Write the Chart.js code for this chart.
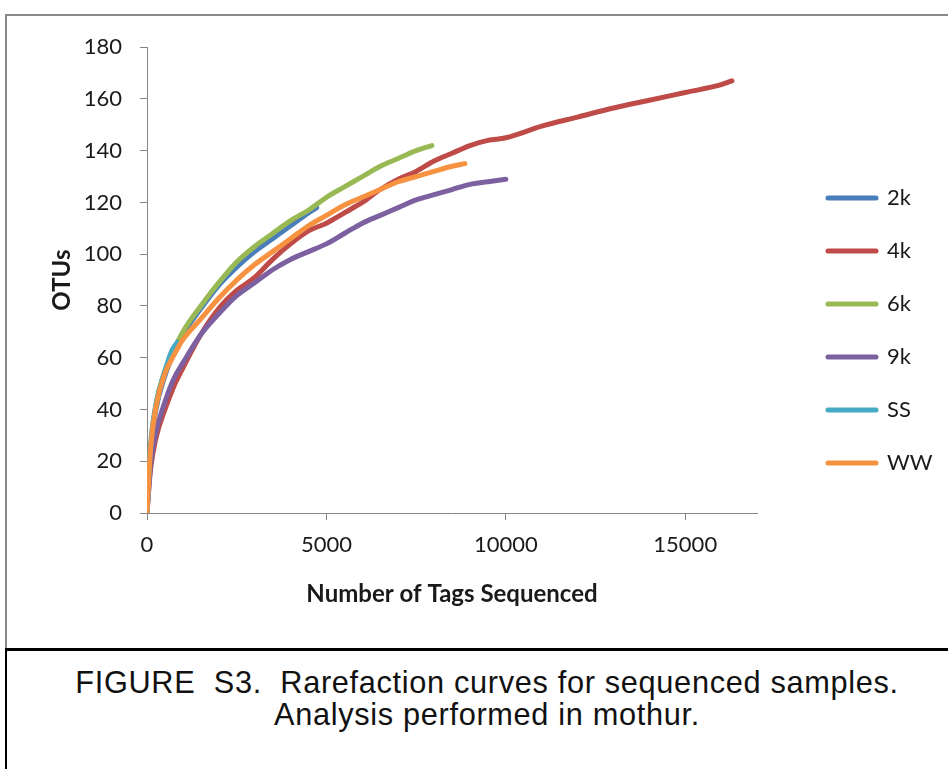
<!DOCTYPE html>
<html>
<head>
<meta charset="utf-8">
<script src="https://cdn.jsdelivr.net/npm/chart.js@4.4.1/dist/chart.umd.min.js"></script>
<style>
  body { margin: 0; background: #fff; width: 948px; height: 769px; overflow: hidden; position: relative; }
  #frame { position: absolute; left: 5px; top: 14px; width: 960px; height: 636px; border-top: 2px solid #8a8a8a; border-left: 2px solid #8a8a8a; box-sizing: border-box; }
  #wrap { position: absolute; left: 7px; top: 16px; width: 941px; height: 631px; }
  #caption { position: absolute; left: 5px; top: 648px; width: 960px; height: 140px; border-top: 3px solid #000; border-left: 2px solid #000; box-sizing: border-box; color: #111; }
  #caption p { margin: 0; position: absolute; left: 0; width: 960px; text-align: center; font-family: "Liberation Sans Narrow", "Arial Narrow", "Liberation Sans", sans-serif; font-size: 32px; line-height: 32px; letter-spacing: 0.7px; transform: scaleX(0.96); transform-origin: 480px 0; }
</style>
</head>
<body>
<div id="frame"></div>
<div id="wrap"><canvas id="rare-chart"></canvas></div>
<div id="caption">
  <p style="top:15px">FIGURE&nbsp; S3.&nbsp; Rarefaction curves for sequenced samples.</p>
  <p style="top:47px">Analysis performed in mothur.</p>
</div>
<script>
const sampleNames = ["2k", "4k", "6k", "9k", "SS", "WW"];
const lineColors = ["#4A7EBB", "#BE4B48", "#98B954", "#7D60A0", "#46AAC5", "#F69240"];
const xTicks = [0, 5000, 10000, 15000];

// number of tags sequenced / OTUs
const tags2k = [0, 100, 250, 500, 750, 1000, 1500, 2000, 2500, 3000, 3500, 4000, 4500, 4730];
const otus2k = [0, 24, 40, 53, 62, 69, 79, 88, 95, 101, 106, 111, 116, 118];

const tags4k = [0, 100, 250, 500, 750, 1000, 1500, 2000, 2500, 3000, 3500, 4000, 4500, 5000, 5500, 6000, 6500, 7000, 7500, 8000, 8500, 9000, 9500, 10000, 11000, 12000, 13000, 14000, 15000, 16000, 16300];
const otus4k = [0, 17, 29, 40, 49, 56, 69, 79, 86, 91, 98, 104, 109, 112, 116, 120, 125, 129, 132, 136, 139, 142, 144, 145, 149.5, 153, 156.5, 159.5, 162.5, 165.5, 167];

const tags6k = [0, 100, 250, 500, 750, 1000, 1500, 2000, 2500, 3000, 3500, 4000, 4500, 5000, 5500, 6000, 6500, 7000, 7500, 7940];
const otus6k = [0, 25, 42, 55, 63, 70, 80, 89, 97, 103, 108, 113, 117, 122, 126, 130, 134, 137, 140, 142];

const tags9k = [0, 100, 250, 500, 750, 1000, 1500, 2000, 2500, 3000, 3500, 4000, 4500, 5000, 5500, 6000, 6500, 7000, 7500, 8000, 8500, 9000, 9500, 10000];
const otus9k = [0, 19, 31, 43, 52, 58, 69, 77, 84, 89, 94, 98, 101, 104, 108, 112, 115, 118, 121, 123, 125, 127, 128, 129];

const tagsSS = [0, 100, 250, 500, 700, 850];
const otusSS = [0, 26, 42, 55, 63, 66];

const tagsWW = [0, 100, 250, 500, 750, 1000, 1500, 2000, 2500, 3000, 3500, 4000, 4500, 5000, 5500, 6000, 6500, 7000, 7500, 8000, 8500, 8860];
const otusWW = [0, 25, 41, 54, 61, 67, 75, 83, 90, 96, 101, 106, 111, 115, 119, 122, 125, 128, 130, 132, 134, 135];

const allTags = [tags2k, tags4k, tags6k, tags9k, tagsSS, tagsWW];
const allOtus = [otus2k, otus4k, otus6k, otus9k, otusSS, otusWW];

const datasets = [];
for (let i = 0; i < sampleNames.length; i++) {
  const pts = [];
  for (let j = 0; j < allTags[i].length; j++) {
    pts.push({ x: allTags[i][j], y: allOtus[i][j] });
  }
  datasets.push({
    label: sampleNames[i],
    data: pts,
    borderColor: lineColors[i],
    backgroundColor: lineColors[i],
    borderWidth: 5,
    borderCapStyle: "round",
    borderJoinStyle: "round",
    pointRadius: 0,
    cubicInterpolationMode: "monotone",
    order: sampleNames.length - i, // later series drawn on top, like Excel
  });
}

// legend sits a bit away from the plot, like the original
const legendPlace = {
  id: "legendPlace",
  beforeInit(chart) {
    const fit = chart.legend.fit;
    chart.legend.fit = function () {
      fit.call(this);
      this.width = 191;
    };
  },
  afterLayout(chart) {
    chart.legend.left += 40;
    chart.legend.right += 40;
    chart.legend.top -= 16;
    chart.legend.bottom -= 16;
  },
};

const axisGray = "#868686";
const tickFont = { family: "Lato, 'Open Sans', sans-serif", size: 22 };
const titleFont = { family: "Lato, 'Open Sans', sans-serif", size: 24, weight: "bold" };

new Chart(document.getElementById("rare-chart"), {
  type: "line",
  data: { datasets: datasets },
  plugins: [legendPlace],
  options: {
    responsive: true,
    maintainAspectRatio: false,
    animation: false,
    layout: { padding: { top: 30, bottom: 0, left: 0, right: 0 } },
    scales: {
      x: {
        type: "linear",
        min: 0,
        max: 17000,
        afterBuildTicks: (scale) => {
          scale.ticks = xTicks.map((v) => ({ value: v }));
        },
        afterFit: (scale) => { scale.height = 134; },
        grid: { drawOnChartArea: false, drawTicks: true, tickLength: 7, color: axisGray },
        border: { color: axisGray, width: 1 },
        ticks: { color: "#1a1a1a", font: tickFont, padding: 12, maxRotation: 0, callback: (v) => String(v) },
        title: { display: true, text: "Number of Tags Sequenced", color: "#1a1a1a", font: titleFont, padding: { top: 0, bottom: 38 } },
      },
      y: {
        min: 0,
        max: 180,
        ticks: { stepSize: 20, color: "#1a1a1a", font: tickFont, padding: 18 },
        afterFit: (scale) => { scale.width = 140; },
        grid: { drawOnChartArea: false, drawTicks: true, tickLength: 7, color: axisGray },
        border: { color: axisGray, width: 1 },
        title: { display: true, text: "OTUs", color: "#1a1a1a", font: titleFont, padding: { top: 41, bottom: 0 } },
      },
    },
    plugins: {
      legend: {
        position: "right",
        labels: {
          boxWidth: 48,
          boxHeight: 0,
          padding: 31,
          color: "#1a1a1a",
          font: tickFont,
          sort: (a, b) => a.datasetIndex - b.datasetIndex,
        },
      },
      tooltip: { enabled: false },
    },
  },
});
</script>
</body>
</html>
